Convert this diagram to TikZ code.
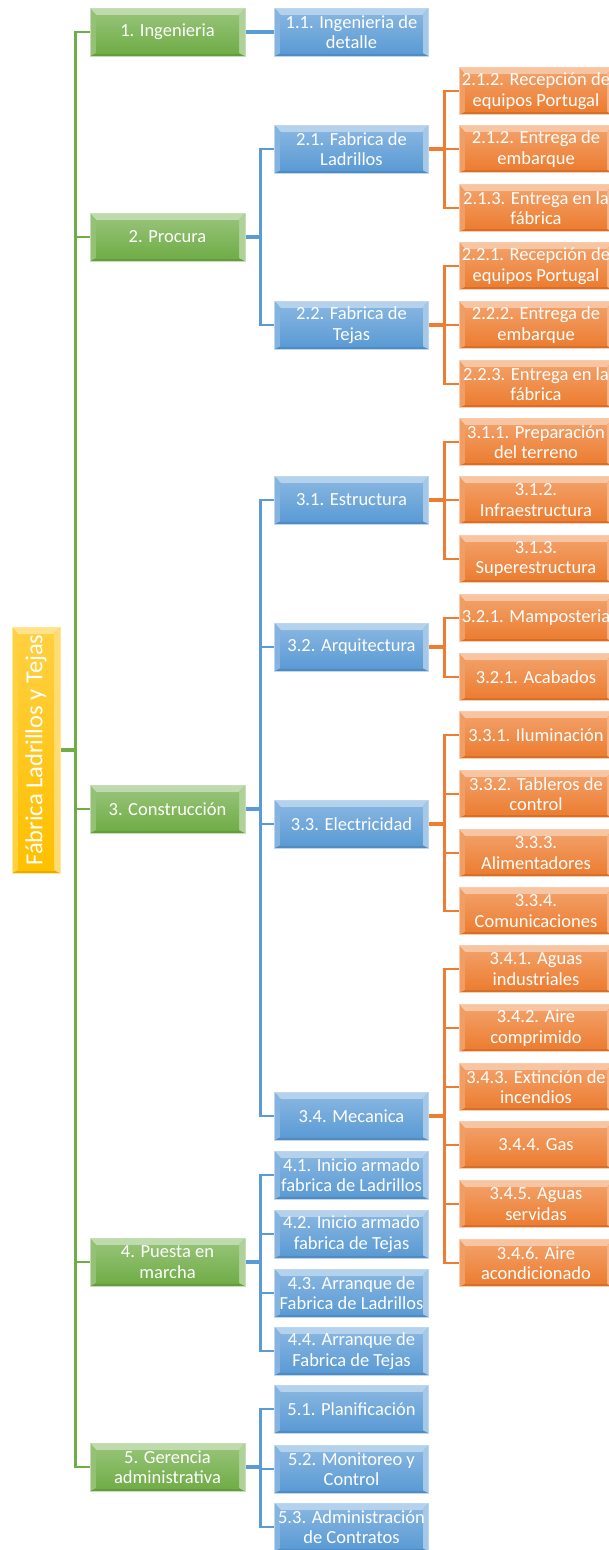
\documentclass[tikz,border=0pt]{standalone}
\usepackage{fontspec}
\setmainfont{Carlito}
\usetikzlibrary{calc,backgrounds}
\definecolor{cgreen}{HTML}{70AD47}
\definecolor{cblue}{HTML}{5B9BD5}
\definecolor{corange}{HTML}{ED7D31}
\definecolor{cyellow}{HTML}{FFC000}

\tikzset{
  bevelbox/.style={
    draw=#1!40!white, line width=0.8pt, fill=#1, text=white,
    inner sep=0pt, align=center,
    font=\fontsize{18.5}{20.5}\selectfont,
    path picture={
      % top and side bevel strips, darker bottom strip, shaded face
      \fill[#1!45!white]
        (path picture bounding box.north west) -- (path picture bounding box.north east)
        -- ([shift={(-6pt,-7pt)}]path picture bounding box.north east)
        -- ([shift={(6pt,-7pt)}]path picture bounding box.north west) -- cycle;
      \fill[#1!90!black]
        (path picture bounding box.south west) -- (path picture bounding box.south east)
        -- ([shift={(-6pt,3pt)}]path picture bounding box.south east)
        -- ([shift={(6pt,3pt)}]path picture bounding box.south west) -- cycle;
      \fill[#1!75!white]
        (path picture bounding box.north west) -- ([shift={(6pt,-7pt)}]path picture bounding box.north west)
        -- ([shift={(6pt,3pt)}]path picture bounding box.south west)
        -- (path picture bounding box.south west) -- cycle;
      \fill[#1!55!white]
        (path picture bounding box.north east) -- ([shift={(-6pt,-7pt)}]path picture bounding box.north east)
        -- ([shift={(-6pt,3pt)}]path picture bounding box.south east)
        -- (path picture bounding box.south east) -- cycle;
      \shade[top color=#1!75!white, bottom color=#1]
        ([shift={(6pt,-7pt)}]path picture bounding box.north west)
        rectangle ([shift={(-6pt,3pt)}]path picture bounding box.south east);
    }
  },
  lvl1/.style={bevelbox=cgreen, minimum width=155pt, minimum height=48pt},
  lvl2/.style={bevelbox=cblue, minimum width=154pt, minimum height=48pt},
  lvl3/.style={bevelbox=corange, minimum width=154pt, minimum height=47.5pt},
  rootbox/.style={bevelbox=cyellow, minimum width=48pt, minimum height=246pt,
    font=\fontsize{24.5}{26}\selectfont},
  glink/.style={draw=cgreen, line width=2.8pt},
  blink/.style={draw=cblue, line width=2.8pt},
  olink/.style={draw=corange, line width=2.8pt},
  gstub/.style={draw=cgreen, line width=3.8pt},
  bstub/.style={draw=cblue, line width=3.8pt},
  ostub/.style={draw=corange, line width=3.8pt},
}

\begin{document}
\begin{tikzpicture}[x=1pt, y=-1pt]
\useasboundingbox (0,0) rectangle (608,1550);

% root
\node[rootbox] (r) at (36,750) {\rotatebox{90}{Fábrica Ladrillos y Tejas}};

% level 1
\node[lvl1] (g1) at (167.5,32)   {1. Ingenieria};
\node[lvl1] (g2) at (167.5,237)  {2. Procura};
\node[lvl1] (g3) at (167.5,809)  {3. Construcción};
\node[lvl1] (g4) at (167.5,1262) {4. Puesta en\\marcha};
\node[lvl1] (g5) at (167.5,1467) {5. Gerencia\\administrativa};

% level 2
\node[lvl2] (b11) at (351.5,32)   {1.1. Ingenieria de\\detalle};
\node[lvl2] (b21) at (351.5,149)  {2.1. Fabrica de\\Ladrillos};
\node[lvl2] (b22) at (351.5,325)  {2.2. Fabrica de\\Tejas};
\node[lvl2] (b31) at (351.5,500)  {3.1. Estructura};
\node[lvl2] (b32) at (351.5,647)  {3.2. Arquitectura};
\node[lvl2] (b33) at (351.5,824)  {3.3. Electricidad};
\node[lvl2] (b34) at (351.5,1116) {3.4. Mecanica};
\node[lvl2] (b41) at (351.5,1175) {4.1. Inicio armado\\fabrica de Ladrillos};
\node[lvl2] (b42) at (351.5,1234) {4.2. Inicio armado\\fabrica de Tejas};
\node[lvl2] (b43) at (351.5,1293) {4.3. Arranque de\\Fabrica de Ladrillos};
\node[lvl2] (b44) at (351.5,1351) {4.4. Arranque de\\Fabrica de Tejas};
\node[lvl2] (b51) at (351.5,1409) {5.1. Planificación};
\node[lvl2] (b52) at (351.5,1469) {5.2. Monitoreo y\\Control};
\node[lvl2] (b53) at (351.5,1527) {5.3. Administración\\de Contratos};

% level 3
\node[lvl3] (o211) at (536,91)   {2.1.2. Recepción de\\equipos Portugal};
\node[lvl3] (o212) at (536,149)  {2.1.2. Entrega de\\embarque};
\node[lvl3] (o213) at (536,208)  {2.1.3. Entrega en la\\fábrica};
\node[lvl3] (o221) at (536,266)  {2.2.1. Recepción de\\equipos Portugal};
\node[lvl3] (o222) at (536,325)  {2.2.2. Entrega de\\embarque};
\node[lvl3] (o223) at (536,384)  {2.2.3. Entrega en la\\fábrica};
\node[lvl3] (o311) at (536,442)  {3.1.1. Preparación\\del terreno};
\node[lvl3] (o312) at (536,500)  {3.1.2.\\Infraestructura};
\node[lvl3] (o313) at (536,559)  {3.1.3.\\Superestructura};
\node[lvl3] (o321) at (536,618)  {3.2.1. Mamposteria};
\node[lvl3] (o322) at (536,677)  {3.2.1. Acabados};
\node[lvl3] (o331) at (536,735)  {3.3.1. Iluminación};
\node[lvl3] (o332) at (536,794)  {3.3.2. Tableros de\\control};
\node[lvl3] (o333) at (536,853)  {3.3.3.\\Alimentadores};
\node[lvl3] (o334) at (536,911)  {3.3.4.\\Comunicaciones};
\node[lvl3] (o341) at (536,969)  {3.4.1. Aguas\\industriales};
\node[lvl3] (o342) at (536,1028) {3.4.2. Aire\\comprimido};
\node[lvl3] (o343) at (536,1087) {3.4.3. Extinción de\\incendios};
\node[lvl3] (o344) at (536,1145) {3.4.4. Gas};
\node[lvl3] (o345) at (536,1204) {3.4.5. Aguas\\servidas};
\node[lvl3] (o346) at (536,1263) {3.4.6. Aire\\acondicionado};

% bus coordinates
\coordinate (rb) at ([xshift=15pt]r.east);
\foreach \p in {g2,g3,g4,g5} {\coordinate (\p bus) at ([xshift=15pt]\p.east);}
\foreach \p in {b21,b22,b31,b32,b33,b34} {\coordinate (\p bus) at ([xshift=15.5pt]\p.east);}

\begin{scope}[on background layer]
% root to level 1
\draw[gstub] (r.east) -- (rb);
\foreach \c in {g1,g2,g3,g4,g5} {\draw[glink] (rb) |- (\c.west);}

% level 1 to level 2
\draw[bstub] (g1.east) -- (b11.west);
\draw[bstub] (g2.east) -- (g2bus);
\foreach \c in {b21,b22} {\draw[blink] (g2bus) |- (\c.west);}
\draw[bstub] (g3.east) -- (g3bus);
\foreach \c in {b31,b32,b33,b34} {\draw[blink] (g3bus) |- (\c.west);}
\draw[bstub] (g4.east) -- (g4bus);
\foreach \c in {b41,b42,b43,b44} {\draw[blink] (g4bus) |- (\c.west);}
\draw[bstub] (g5.east) -- (g5bus);
\foreach \c in {b51,b52,b53} {\draw[blink] (g5bus) |- (\c.west);}

% level 2 to level 3
\draw[ostub] (b21.east) -- (b21bus);
\foreach \c in {o211,o212,o213} {\draw[olink] (b21bus) |- (\c.west);}
\draw[ostub] (b22.east) -- (b22bus);
\foreach \c in {o221,o222,o223} {\draw[olink] (b22bus) |- (\c.west);}
\draw[ostub] (b31.east) -- (b31bus);
\foreach \c in {o311,o312,o313} {\draw[olink] (b31bus) |- (\c.west);}
\draw[ostub] (b32.east) -- (b32bus);
\foreach \c in {o321,o322} {\draw[olink] (b32bus) |- (\c.west);}
\draw[ostub] (b33.east) -- (b33bus);
\foreach \c in {o331,o332,o333,o334} {\draw[olink] (b33bus) |- (\c.west);}
\draw[ostub] (b34.east) -- (b34bus);
\foreach \c in {o341,o342,o343,o344,o345,o346} {\draw[olink] (b34bus) |- (\c.west);}
\end{scope}
\end{tikzpicture}
\end{document}
